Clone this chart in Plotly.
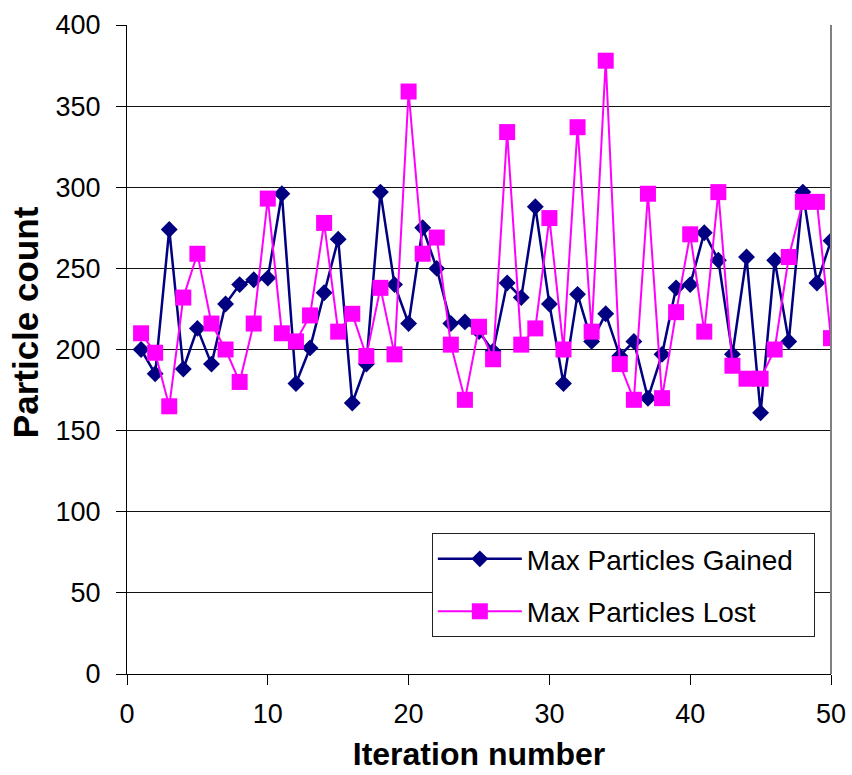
import plotly.graph_objects as go

iterations = list(range(1, 51))
max_gained = [200, 185, 274, 188, 213, 191, 228, 240, 243, 244,
              296, 179, 201, 235, 268, 167, 191, 297, 240, 216,
              275, 250, 216, 217, 211, 199, 241, 232, 288, 228,
              179, 234, 205, 222, 196, 205, 170, 197, 238, 240,
              272, 255, 197, 257, 161, 255, 205, 297, 241, 267]
max_lost = [210, 198, 165, 232, 259, 216, 200, 180, 216, 293,
            210, 205, 221, 278, 211, 222, 196, 238, 197, 359,
            259, 269, 203, 169, 214, 194, 334, 203, 213, 281,
            200, 337, 211, 378, 191, 169, 296, 170, 223, 271,
            211, 297, 190, 182, 182, 200, 257, 291, 291, 207]
x_ticks = [0, 10, 20, 30, 40, 50]
y_ticks = [0, 50, 100, 150, 200, 250, 300, 350, 400]

FONT = "Liberation Sans, Arial, sans-serif"
PAD = "\u00a0\u00a0"

fig = go.Figure()
fig.add_trace(go.Scatter(
    x=iterations, y=max_gained, mode="lines+markers",
    name="Max Particles Gained" + PAD, legendgroup="g",
    line=dict(color="#000080", width=2.5),
    marker=dict(symbol="diamond", size=13, color="#000080"),
))
fig.add_trace(go.Scatter(
    x=iterations, y=max_lost, mode="lines+markers",
    name="Max Particles Lost" + PAD, legendgroup="l",
    line=dict(color="#FF00FF", width=2),
    marker=dict(symbol="square", size=16, color="#FF00FF"),
))

fig.update_layout(
    width=852, height=775,
    margin=dict(l=127, r=21, t=25, b=101),
    paper_bgcolor="white", plot_bgcolor="white",
    font=dict(family=FONT, color="black"),
    legend=dict(
        x=0.433, y=0.217, xanchor="left", yanchor="top",
        bgcolor="white", bordercolor="#222", borderwidth=1,
        font=dict(size=28, family=FONT),
        itemwidth=84, tracegroupgap=13, traceorder="grouped",
    ),
    annotations=[dict(
        text="<b>Particle count</b>", xref="paper", yref="paper",
        x=-0.145, y=0.542, xanchor="center", yanchor="middle",
        textangle=-90, showarrow=False, font=dict(size=35, family=FONT),
    )],
)
fig.update_xaxes(
    range=[0, 50], tickvals=x_ticks, ticks="outside", ticklen=10,
    tickcolor="black", showline=True, linecolor="black", linewidth=1,
    showgrid=False, zeroline=False, tickfont=dict(size=27),
    ticklabelstandoff=6, automargin=False,
    title=dict(text="<b>Iteration number</b>", font=dict(size=32), standoff=14),
)
fig.update_yaxes(
    range=[0, 400], tickvals=y_ticks, ticks="outside", ticklen=10,
    tickcolor="black", showline=True, linecolor="black", linewidth=1,
    showgrid=True, gridcolor="#111", gridwidth=1, zeroline=False,
    tickfont=dict(size=27), ticklabelstandoff=10, automargin=False,
)
fig.add_shape(type="line", xref="paper", yref="paper", x0=1, x1=1, y0=0, y1=1,
              line=dict(color="#808080", width=2))

fig.write_html("out.html")
